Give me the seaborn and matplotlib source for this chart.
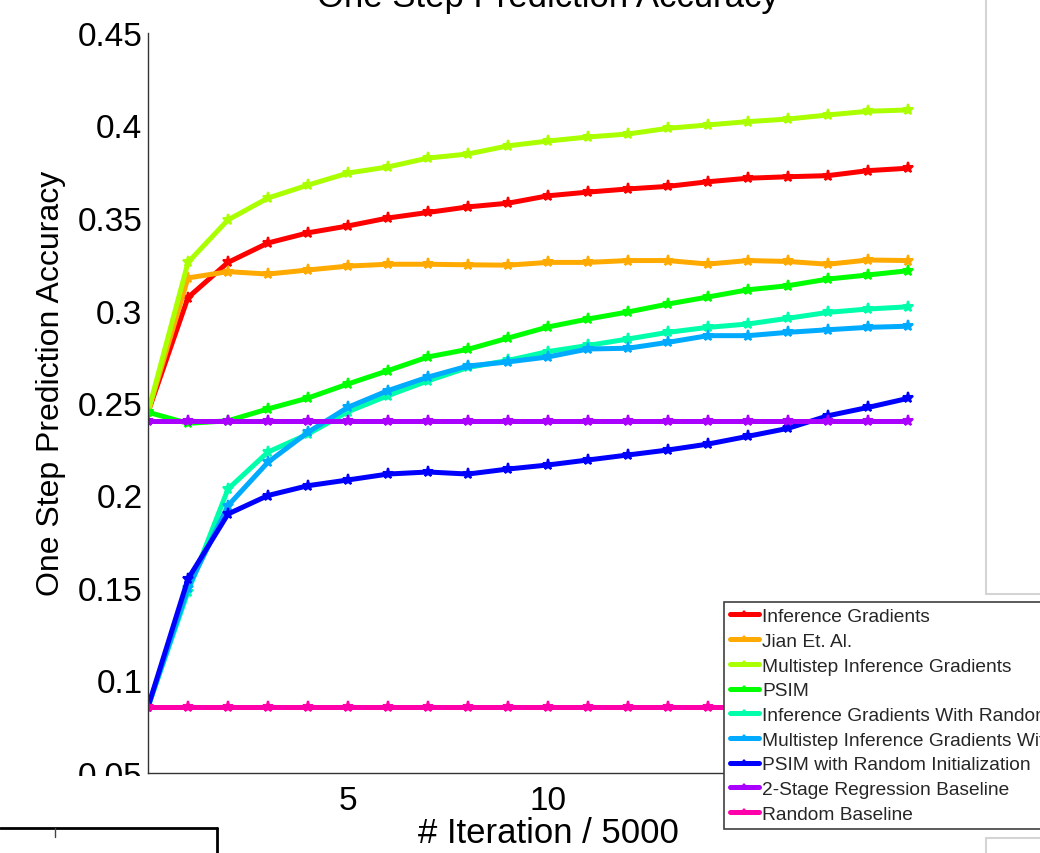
import matplotlib
matplotlib.use("Agg")
import numpy as np
import pandas as pd
import seaborn as sns
import matplotlib.pyplot as plt
from matplotlib.lines import Line2D
from matplotlib.patches import Rectangle

# ---------------- data ----------------
iterations = list(range(20))

method_names = [
    "Inference Gradients",
    "Jian Et. Al.",
    "Multistep Inference Gradients",
    "PSIM",
    "Inference Gradients With Random Initialization",
    "Multistep Inference Gradients With Random Initialization",
    "PSIM with Random Initialization",
    "2-Stage Regression Baseline",
    "Random Baseline",
]

inference_gradients = [0.245, 0.307, 0.326, 0.3365, 0.342, 0.3457, 0.350, 0.353, 0.356, 0.358,
                       0.362, 0.364, 0.3657, 0.3671, 0.3696, 0.3715, 0.3723, 0.3729, 0.3756, 0.3769]
jian_et_al = [0.245, 0.3176, 0.321, 0.3197, 0.3219, 0.324, 0.325, 0.325, 0.3247, 0.3245,
              0.326, 0.326, 0.327, 0.327, 0.3251, 0.327, 0.3265, 0.325, 0.3273, 0.327]
multistep_ig = [0.245, 0.326, 0.349, 0.3608, 0.3678, 0.3743, 0.3776, 0.3824, 0.3846, 0.389,
                0.3916, 0.3938, 0.3954, 0.3985, 0.4003, 0.4021, 0.4035, 0.4057, 0.4077, 0.4084]
psim = [0.245, 0.239, 0.2404, 0.2468, 0.2527, 0.2603, 0.2675, 0.2749, 0.279, 0.2851,
        0.2911, 0.2954, 0.2992, 0.3035, 0.3073, 0.3112, 0.3134, 0.317, 0.3192, 0.3215]
ig_random = [0.0857, 0.148, 0.2035, 0.2235, 0.2332, 0.2453, 0.254, 0.262, 0.2692, 0.273,
             0.2778, 0.2811, 0.2846, 0.2882, 0.2909, 0.2927, 0.2958, 0.299, 0.3008, 0.302]
mig_random = [0.0857, 0.150, 0.1945, 0.218, 0.2342, 0.2477, 0.2567, 0.264, 0.27, 0.2722,
              0.2749, 0.2792, 0.2796, 0.2828, 0.2864, 0.2864, 0.2882, 0.2896, 0.2909, 0.2915]
psim_random = [0.0857, 0.1549, 0.19, 0.2, 0.2053, 0.2084, 0.2116, 0.2127, 0.2116, 0.2143,
               0.2165, 0.2192, 0.2219, 0.2246, 0.2278, 0.232, 0.2363, 0.2431, 0.2476, 0.2525]
two_stage_baseline = [0.2405] * 20
random_baseline = [0.0857] * 20

colors = ["#ff0000", "#ffaa00", "#aaff00", "#00ff00", "#00ffaa",
          "#00aaff", "#0000ff", "#aa00ff", "#ff00aa"]

y_ticks = [0.05, 0.1, 0.15, 0.2, 0.25, 0.3, 0.35, 0.4, 0.45]
y_tick_labels = ["0.05", "0.1", "0.15", "0.2", "0.25", "0.3", "0.35", "0.4", "0.45"]
x_ticks = [5, 10, 15, 20]
x_tick_labels = ["5", "10", "15", "20"]

series = [inference_gradients, jian_et_al, multistep_ig, psim, ig_random,
          mig_random, psim_random, two_stage_baseline, random_baseline]

rows = []
for name, vals in zip(method_names, series):
    for it, v in zip(iterations, vals):
        rows.append({"iteration": it, "accuracy": v, "method": name})
df = pd.DataFrame(rows)

# ---------------- style ----------------
sns.set_style("white")
plt.rcParams["font.family"] = ["Liberation Sans", "DejaVu Sans"]

W, H = 1040, 854
fig = plt.figure(figsize=(W / 100, H / 100), dpi=100)
ax = fig.add_axes([148 / W, 1 - 774 / H, 800 / W, 740 / H])

sns.lineplot(data=df, x="iteration", y="accuracy", hue="method",
             hue_order=method_names, palette=colors, marker="*",
             markersize=8, linewidth=3.6, errorbar=None, legend=False, ax=ax)
for ln in ax.lines:
    ln.set_markeredgecolor(ln.get_color())
    ln.set_markerfacecolor(ln.get_color())
    ln.set_markeredgewidth(1.5)
    ln.set_solid_joinstyle("round")

ax.set_xlim(0, 20)
ax.set_ylim(0.05, 0.45)
ax.set_yticks(y_ticks)
ax.set_yticklabels(y_tick_labels)
ax.set_xticks(x_ticks)
ax.set_xticklabels(x_tick_labels)
ax.tick_params(axis="both", direction="in", length=5.8, width=1, color="#333333",
               labelsize=24, labelcolor="black", pad=4)
ax.tick_params(axis="x", pad=9)
ax.spines["top"].set_visible(False)
ax.spines["right"].set_visible(False)
for s in ("left", "bottom"):
    ax.spines[s].set_color("#333333")
    ax.spines[s].set_linewidth(1)

ax.set_xlabel("# Iteration / 5000", fontsize=25, color="black", labelpad=0)
ax.set_ylabel("One Step Prediction Accuracy", fontsize=23, color="black")
ax.yaxis.set_label_coords(-(148 - 66) / 800, (774 - 383) / 740)
fig.text(548 / W, 1 - 7 / H, "One Step Prediction Accuracy", ha="center",
         va="baseline", fontsize=25, color="black")

leg = fig.legend(ax.lines[:9], method_names, loc="upper left",
                 bbox_to_anchor=(724 / W, 1 - 603 / H), bbox_transform=fig.transFigure,
                 fontsize=13.8, frameon=True, fancybox=False, framealpha=1,
                 edgecolor="#404040", borderpad=0.3, labelspacing=0.38,
                 handlelength=1.5, handletextpad=0.2, borderaxespad=0)
leg.get_frame().set_linewidth(1.2)
leg.set_zorder(20)
for h in leg.legend_handles:
    h.set_markersize(4)

# white patch clipping the lowest tick label, and fragments of neighbouring panels
fig.patches.append(Rectangle((0, 1 - 828 / H), 146 / W, (828 - 777) / H,
                             transform=fig.transFigure, facecolor="white",
                             edgecolor="none", zorder=10))
black = dict(color="black", linewidth=2, transform=fig.transFigure, zorder=11)
fig.add_artist(Line2D([0, 217 / W], [1 - 829 / H, 1 - 829 / H], **black))
fig.add_artist(Line2D([217 / W, 217 / W], [1 - 829 / H, 0], **black))
fig.add_artist(Line2D([55 / W, 55 / W], [1 - 829 / H, 1 - 838 / H], color="#444444",
                      linewidth=1, transform=fig.transFigure, zorder=11))
gray = dict(color="#d4d4d4", linewidth=1.5, transform=fig.transFigure, zorder=11)
fig.add_artist(Line2D([985.5 / W, 985.5 / W], [1, 1 - 595 / H], **gray))
fig.add_artist(Line2D([985.5 / W, 1], [1 - 595 / H, 1 - 595 / H], **gray))
fig.add_artist(Line2D([985.5 / W, 1], [1 - 839 / H, 1 - 839 / H], **gray))
fig.add_artist(Line2D([985.5 / W, 985.5 / W], [1 - 839 / H, 0], **gray))

fig.savefig("out.png", dpi=100)
